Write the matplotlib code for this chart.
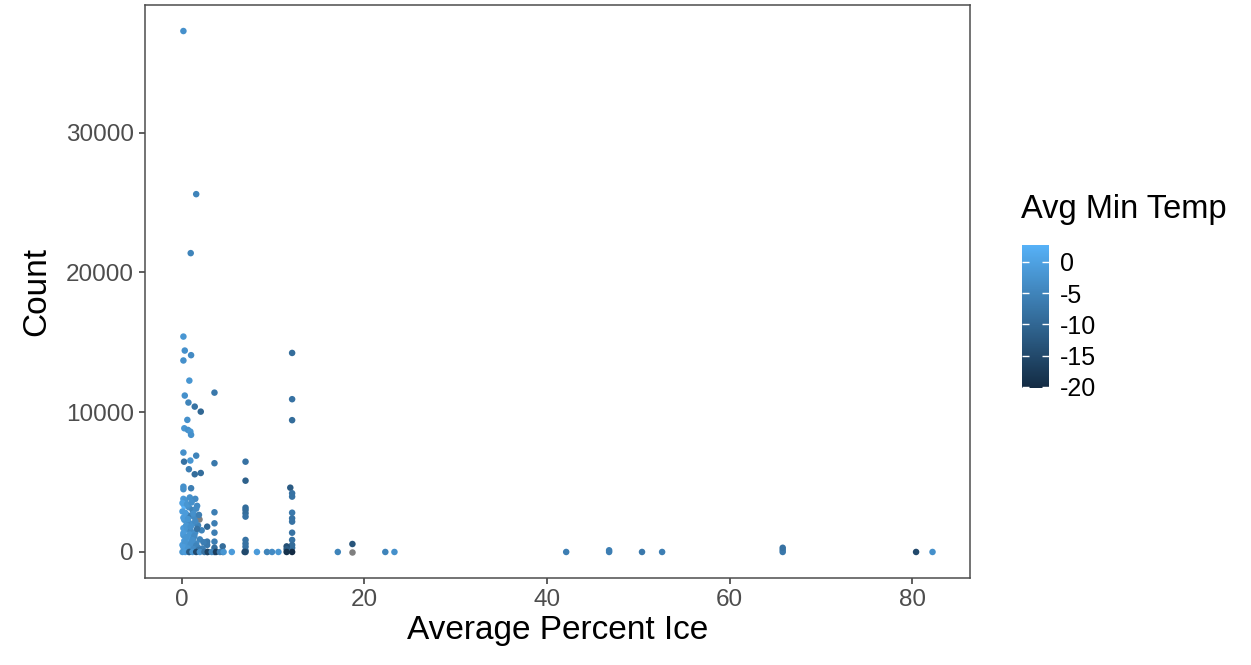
#!/usr/bin/env python3
"""
Scatter of count vs average percent ice, coloured by average minimum temperature.
"""
import numpy as np
import matplotlib
matplotlib.use("Agg")
import matplotlib.pyplot as plt
from matplotlib.colors import LinearSegmentedColormap, Normalize

# (percent ice, count, avg min temp)
pct_ice = [
    0.2, 1.6, 1.0, 0.2, 0.35, 1.04, 0.2, 0.85, 3.6, 0.35, 0.75, 1.44, 2.1,
    0.63, 0.3, 0.7, 0.96, 1.04, 0.2, 0.27, 0.96, 1.6, 3.6, 0.8, 1.44, 2.1,
    7.0, 7.0, 0.2, 0.2, 1.04,
    12.1, 12.1, 12.1, 11.9, 12.1, 12.1, 12.1, 12.1, 12.1, 12.1, 12.1, 12.1,
    12.1, 12.1, 11.5, 11.5, 11.5,
    7.0, 7.0, 7.0, 7.0, 7.0, 7.0, 7.0, 7.0, 7.0,
    3.6, 3.6, 3.6, 3.6, 3.6, 3.6, 2.8, 2.8, 2.8, 2.8, 4.5, 4.5,
    0.2, 0.4, 0.9, 1.5, 1.7, 0.3, 0.8, 1.2, 0.1, 0.5, 1.0, 1.4, 0.3, 0.8,
    1.2, 1.8, 0.2, 0.6, 1.0, 1.5, 0.2, 0.7, 1.3, 2.0, 0.3, 0.9, 1.6, 0.1,
    0.5, 1.1, 1.8, 2.3, 0.3, 0.8, 1.4, 2.0,
    0.1, 0.6, 1.1, 1.6, 0.4, 1.3, 1.9, 0.2, 0.7, 1.5, 2.2, 0.5, 1.0, 1.7,
    0.2, 0.9, 1.4, 0.6, 1.2, 2.4, 0.4, 1.0, 1.6, 0.2, 0.7, 1.3, 1.9, 0.5,
    0.1, 0.4, 0.8, 0.85, 1.2, 1.6, 2.0, 2.5, 2.86, 3.3, 3.77, 4.2, 4.6,
    5.5, 6.9, 8.25, 9.35, 9.9, 10.6,
    17.1, 18.7, 22.3, 23.3,
    42.1, 46.8, 46.8, 50.4, 52.6, 65.8, 65.8, 65.8, 80.4, 82.2,
]
counts = [
    37270, 25600, 21380, 15410, 14410, 14080, 13700, 12260, 11400, 11190,
    10690, 10400, 10040, 9450, 8850, 8730, 8610, 8380, 7110, 6460, 6540,
    6890, 6350, 5920, 5560, 5650, 6460, 5100, 4670, 4490, 4560,
    14240, 10930, 9430, 4600, 4200, 3960, 2810, 2410, 2170, 1380, 860, 500,
    300, 0, 400, 200, 0,
    3170, 3000, 2770, 2530, 860, 600, 380, 100, 0,
    2840, 2050, 1380, 740, 300, 0, 1810, 740, 500, 0, 400, 0,
    3800, 3700, 3900, 3800, 3300, 3300, 3200, 3000, 2900, 2700, 2600, 2500,
    2300, 2100, 2000, 1900, 1700, 1600, 1500, 1400, 1200, 1100, 1000, 900,
    800, 700, 600, 500, 400, 350, 300, 250, 150, 100, 80, 60,
    3500, 3400, 3550, 3100, 2800, 2750, 2650, 2450, 2350, 2200, 1550, 1900,
    1800, 1650, 1350, 1250, 1150, 950, 850, 700, 650, 550, 450, 350, 250,
    200, 150, 1050,
    0, 0, 0, 0, 0, 0, 0, 0, 0, 0, 0, 0, 0, 0, 0, 0, 0, 0, 0,
    0, 570, 0, 0,
    0, 0, 120, 0, 0, 0, 150, 300, 0, 0,
]
min_temp = [
    -3, -5, -5, -2, -3, -4, -3, -2, -7, -3, -5, -8, -10, -3, -2, -3, -2, -3,
    -3, -8, -2, -5, -7, -6, -9, -9, -8, -11, -3, -3, -6,
    -9, -8, -9, -12, -8, -8, -7, -8, -8, -8, -8, -9, -9, -20.2, -14, -12, -19,
    -9, -9, -9, -8, -8, -8, -8, -8, -14,
    -6, -6, -6, -6, -9, -13, -10, -7, -7, -12, -9, -12,
    -1, -2, -3, -4, -4, 2.7, -3, -5, -1, -2, -6, -4, -2, -4, -3, -5, -1, -2,
    -4, -3, -2, -3, -5, -5, -1, -2, -4, -1, -2, -3, -5, -6, -1, -2, -4, -6,
    0, -2, -3, -4, -1, -3, -6, -1, -2, -4, -5, -2, -3, -8, -1, -2, -4, -1,
    -3, -6, -2, -3, -5, -1, -2, -4, -7, -2,
    -2, -1, -3, -12, -2, -15, -3, -8, -16, -5, -17, -6, -2, -1, -15, -1, -5,
    -4, -2,
    -5, -13, -5, -3,
    -6, -6, -6, -7, -6, -7, -7, -8, -15, -3,
]
# points with missing temperature (drawn grey)
na_ice = [1.9, 18.7]
na_counts = [2340, 0]

cmap = LinearSegmentedColormap.from_list("gg", ["#132B43", "#56B1F7"])
norm = Normalize(vmin=min(min_temp), vmax=max(min_temp))

plt.rcParams["font.family"] = ["Liberation Sans", "DejaVu Sans"]
fig = plt.figure(figsize=(12.51, 6.65), dpi=100)
ax = fig.add_axes([0.1159, 0.1308, 0.6595, 0.8617])

ax.scatter(na_ice, na_counts, s=22, color="#7F7F7F", linewidths=0)
sc = ax.scatter(pct_ice, counts, c=min_temp, cmap=cmap, norm=norm,
                s=22, linewidths=0)

xmin, xmax = min(pct_ice), max(pct_ice)
ymin, ymax = 0, max(counts)
ax.set_xlim(xmin - 0.05 * (xmax - xmin), xmax + 0.05 * (xmax - xmin))
ax.set_ylim(ymin - 0.05 * (ymax - ymin), ymax + 0.05 * (ymax - ymin))
ax.set_xticks([0, 20, 40, 60, 80])
ax.set_yticks([0, 10000, 20000, 30000])

for s in ax.spines.values():
    s.set_color("#4D4D4D")
    s.set_linewidth(1.1)
ax.tick_params(colors="#333333", length=4, width=1.1, labelsize=17.5,
               labelcolor="#4D4D4D", pad=4)
ax.set_xlabel("Average Percent Ice", fontsize=24, labelpad=3)
ax.set_ylabel("Count", fontsize=24, labelpad=10)

cax = fig.add_axes([0.817, 0.4165, 0.0216, 0.2151])
cb = fig.colorbar(sc, cax=cax, ticks=[0, -5, -10, -15, -20])
cb.outline.set_visible(False)
cax.tick_params(axis="y", which="both", direction="in", color="white",
                length=5, width=1, left=True, right=True, labelsize=18,
                labelcolor="black", pad=8)
cax.set_yticklabels(["0", "-5", "-10", "-15", "-20"])
fig.text(0.816, 0.662, "Avg Min Temp", fontsize=23.5, ha="left", va="bottom")

fig.savefig("out.png", dpi=100)
